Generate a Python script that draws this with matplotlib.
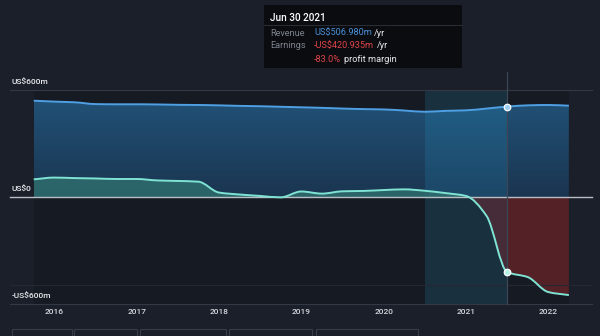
import numpy as np
import matplotlib
matplotlib.use('Agg')
import matplotlib.pyplot as plt
from matplotlib.path import Path
from matplotlib.patches import PathPatch, Rectangle
from matplotlib import transforms

plt.rcParams['font.family'] = ['Roboto', 'DejaVu Sans']

# quarterly trailing-twelve-month figures, US$ millions
quarters = [2015.75, 2016.0, 2016.25, 2016.5, 2016.75, 2017.0, 2017.25, 2017.5, 2017.75,
            2018.0, 2018.25, 2018.5, 2018.75, 2019.0, 2019.25, 2019.5, 2019.75,
            2020.0, 2020.25, 2020.5, 2020.75, 2021.0, 2021.25, 2021.5, 2021.75,
            2022.0, 2022.25]
revenue = [540, 535, 531, 521, 520, 520, 519, 517, 516, 514, 511, 509, 506, 503, 500,
           496, 493, 491, 485, 478, 483, 486, 496, 506.980, 514, 516, 512]
earnings = [99, 109, 106, 104, 101, 101, 93, 90, 86, 25, 14, 6, -2, 31, 19, 32, 34,
            39, 43, 35, 22, 6, -106, -420.935, -449, -533, -550]

years = [2016, 2017, 2018, 2019, 2020, 2021, 2022]
y_ticks = [600, 0, -600]
y_tick_labels = ['US$600m', 'US$0', '-US$600m']

sel_date = 2021.5
sel_label = 'Jun 30 2021'
band_start = 2020.5

BG = '#1b1f29'
REV_LINE = '#4f9fe3'
EARN_LINE = '#7fe3d4'


def smooth_path(x, y):
    """Monotone cubic (Fritsch-Carlson) curve through the points as Bezier segments."""
    x = np.asarray(x, float)
    y = np.asarray(y, float)
    h = np.diff(x)
    d = np.diff(y) / h
    m = np.zeros_like(y)
    m[0], m[-1] = d[0], d[-1]
    for i in range(1, len(y) - 1):
        if d[i - 1] * d[i] <= 0:
            m[i] = 0
        else:
            w1 = 2 * h[i] + h[i - 1]
            w2 = h[i] + 2 * h[i - 1]
            m[i] = (w1 + w2) / (w1 / d[i - 1] + w2 / d[i])
    verts = [(x[0], y[0])]
    codes = [Path.MOVETO]
    for i in range(len(x) - 1):
        verts += [(x[i] + h[i] / 3, y[i] + m[i] * h[i] / 3),
                  (x[i + 1] - h[i] / 3, y[i + 1] - m[i + 1] * h[i] / 3),
                  (x[i + 1], y[i + 1])]
        codes += [Path.CURVE4] * 3
    return verts, codes


def area_path(x, y):
    verts, codes = smooth_path(x, y)
    verts = verts + [(x[-1], 0), (x[0], 0), (x[0], 0)]
    codes = codes + [Path.LINETO, Path.LINETO, Path.CLOSEPOLY]
    return Path(verts, codes)


fig = plt.figure(figsize=(6, 3.36), dpi=100, facecolor=BG)
ax = fig.add_axes([0, 0, 1, 1])
ax.set_facecolor(BG)
ax.set_xlim(2015.3405, 2022.628)
ax.set_ylim(-779.4, 1104.7)
ax.axis('off')

x0, x1 = quarters[0], quarters[-1]

# darker plot area behind the data
ax.add_patch(Rectangle((x0, -600), x1 - x0, 1200, color='#161a22', lw=0, zorder=1))

# revenue area with a vertical gradient
rev_patch = PathPatch(area_path(quarters, revenue), facecolor='none', edgecolor='none')
ax.add_patch(rev_patch)
grad = np.linspace(0, 1, 256).reshape(-1, 1)
rev_cmap = matplotlib.colors.LinearSegmentedColormap.from_list('rev', ['#1a3550', '#215176'])
img = ax.imshow(grad, extent=(x0, x1, 0, max(revenue)), origin='lower', aspect='auto',
                cmap=rev_cmap, zorder=2, interpolation='bilinear')
img.set_clip_path(rev_patch)

# highlighted last-year band
ax.add_patch(Rectangle((band_start, -600), sel_date - band_start, 1200,
                       color='#2aa8dc', alpha=0.16, lw=0, zorder=3))

# earnings area: teal above zero, red below
earn_path = area_path(quarters, earnings)
pos = PathPatch(earn_path, facecolor='#2f6d6d', edgecolor='none', alpha=0.85, zorder=4)
ax.add_patch(pos)
pos.set_clip_box(transforms.TransformedBbox(
    transforms.Bbox([[x0, 0], [x1, 800]]), ax.transData))
neg_a = PathPatch(earn_path, facecolor='#6a2a33', edgecolor='none', alpha=0.55, zorder=4)
ax.add_patch(neg_a)
neg_a.set_clip_box(transforms.TransformedBbox(
    transforms.Bbox([[x0, -800], [sel_date, 0]]), ax.transData))
neg_b = PathPatch(earn_path, facecolor='#5c2228', edgecolor='none', alpha=0.9, zorder=4)
ax.add_patch(neg_b)
neg_b.set_clip_box(transforms.TransformedBbox(
    transforms.Bbox([[sel_date, -800], [x1, 0]]), ax.transData))

# gridlines
xa = ax.get_yaxis_transform()
ax.plot([0.017, 0.987], [600, 600], color='#333845', lw=0.8, transform=xa, zorder=5)
ax.plot([0.017, 0.987], [-600, -600], color='#333845', lw=0.8, transform=xa, zorder=5)
ax.plot([0.017, 0.987], [-493, -493], color='#232834', lw=0.8, transform=xa, zorder=5)
ax.plot([0.017, 0.987], [0, 0], color='#b9bec6', lw=1.0, transform=xa, zorder=6)

# selected date guide
ax.plot([sel_date, sel_date], [-600, 700], color='#3b4656', lw=0.9, zorder=6)

# lines
vr, cr = smooth_path(quarters, revenue)
ax.add_patch(PathPatch(Path(vr, cr), facecolor='none', edgecolor=REV_LINE, lw=1.4, zorder=7))
ve, ce = smooth_path(quarters, earnings)
ax.add_patch(PathPatch(Path(ve, ce), facecolor='none', edgecolor=EARN_LINE, lw=1.4, zorder=7))

i_sel = quarters.index(sel_date)
ax.scatter([sel_date], [revenue[i_sel]], s=22, facecolor='#9fd0f4', edgecolor='white',
           linewidth=0.9, zorder=8)
ax.scatter([sel_date], [earnings[i_sel]], s=22, facecolor='#b3f1e6', edgecolor='white',
           linewidth=0.9, zorder=8)

# y labels sit just above their gridlines
ya = transforms.blended_transform_factory(ax.transAxes, ax.transData)
for v, lab in zip(y_ticks, y_tick_labels):
    ax.text(0.02, v, lab, transform=ya, color='#e8eaee', fontsize=6, va='bottom',
            ha='left', zorder=9,
            fontweight='medium').set_transform(
        ya + transforms.ScaledTranslation(0, 3 / 72, fig.dpi_scale_trans))

# year labels
for yr in years:
    ax.text(yr, 0.07, str(yr), transform=ax.get_xaxis_transform(), color='#d3d6dc',
            fontsize=6, ha='center', va='center', fontweight='medium', zorder=9)

# cut-off buttons along the bottom edge
for bx0, bx1 in [(12, 72), (74, 137), (140, 226), (229, 312), (316, 418)]:
    fig.patches.append(Rectangle((bx0 / 600, -0.05), (bx1 - bx0) / 600, 1 - 329 / 336 + 0.05,
                                 transform=fig.transFigure, facecolor='none',
                                 edgecolor='#363c48', lw=0.8))

# tooltip
def fx(px):
    return px / 600


def fy(py):
    return 1 - py / 336


fig.patches.append(Rectangle((fx(264), fy(68)), 198 / 600, 63 / 336, transform=fig.transFigure,
                             facecolor='#0a0c10', edgecolor='none', zorder=10))
fig.lines.append(plt.Line2D([fx(264), fx(462)], [fy(25), fy(25)], transform=fig.transFigure,
                            color='#2a2f38', lw=0.7, zorder=11))

renderer = fig.canvas.get_renderer()


def text_run(px, py, parts, size=6.6):
    x = fx(px)
    for s, c in parts:
        t = fig.text(x, fy(py), s, color=c, fontsize=size, va='center', ha='left', zorder=12)
        bb = t.get_window_extent(renderer)
        x = (bb.x1 + 2.5) / fig.bbox.width


margin = earnings[i_sel] / revenue[i_sel] * 100
fig.text(fx(270), fy(18), sel_label, color='white', fontsize=7.2, va='center',
         fontweight='medium', zorder=12)
text_run(270, 33, [('Revenue', '#7d838d')])
text_run(314, 33, [(f'US${revenue[i_sel]:.3f}m', '#4a8fd8'), ('/yr', '#e8eaee')])
text_run(270, 46, [('Earnings', '#7d838d')])
text_run(314, 46, [(f'-US${-earnings[i_sel]:.3f}m', '#e0444a'), ('/yr', '#e8eaee')])
text_run(314, 59, [(f'{margin:.1f}%', '#e0444a'), ('profit margin', '#e8eaee')])

fig.savefig('out.png', dpi=100, facecolor=BG)
